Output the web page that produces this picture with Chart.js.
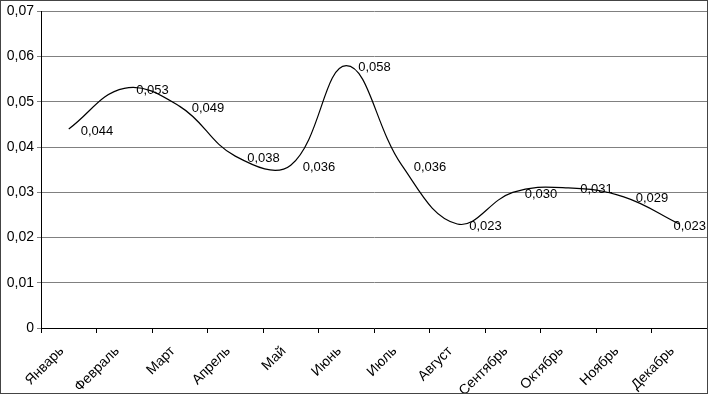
<!DOCTYPE html>
<html>
<head>
<meta charset="utf-8">
<script src="https://cdn.jsdelivr.net/npm/chart.js@4.4.1/dist/chart.umd.min.js"></script>
<style>
  html, body { margin: 0; padding: 0; background: #fff; }
  canvas { display: block; }
</style>
</head>
<body>
<canvas id="grafica" width="708" height="394"></canvas>
<script>
// data
const meses = ["Январь", "Февраль", "Март", "Апрель", "Май", "Июнь", "Июль", "Август", "Сентябрь", "Октябрь", "Ноябрь", "Декабрь"];
const valores = [0.044, 0.053, 0.049, 0.038, 0.036, 0.058, 0.036, 0.023, 0.030, 0.031, 0.029, 0.023];
const ticksY = [0, 0.01, 0.02, 0.03, 0.04, 0.05, 0.06, 0.07];

// frame around the whole picture
const marco = {
  id: "marco",
  afterDraw(chart) {
    const ctx = chart.ctx;
    ctx.save();
    ctx.strokeStyle = "#444";
    ctx.lineWidth = 1;
    ctx.strokeRect(0.5, 0.5, chart.width - 1, chart.height - 1);
    ctx.restore();
  }
};

// value labels to the right of each point
const etiquetas = {
  id: "etiquetas",
  afterDatasetsDraw(chart) {
    const ctx = chart.ctx;
    const meta = chart.getDatasetMeta(0);
    ctx.save();
    ctx.font = "13px 'Liberation Sans', Arial, sans-serif";
    ctx.fillStyle = "#000";
    ctx.textBaseline = "middle";
    meta.data.forEach((p, i) => {
      const txt = valores[i].toFixed(3).replace(".", ",");
      const w = ctx.measureText(txt).width;
      let x = p.x + 12;
      if (x + w > chart.width - 2) x = chart.width - 2 - w;
      ctx.fillText(txt, x, p.y + 2);
    });
    ctx.restore();
  }
};

new Chart(document.getElementById("grafica").getContext("2d"), {
  type: "line",
  data: {
    labels: meses,
    datasets: [{
      data: valores,
      borderColor: "#000",
      borderWidth: 1.2,
      pointRadius: 0,
      tension: 0.4,
      fill: false
    }]
  },
  options: {
    responsive: false,
    animation: false,
    layout: { padding: { top: 11, right: 1, left: 0, bottom: 0 } },
    plugins: { legend: { display: false }, tooltip: { enabled: false } },
    scales: {
      x: {
        offset: true,
        grid: { offset: true, drawOnChartArea: false, color: "#000", tickLength: 5 },
        border: { color: "#000" },
        ticks: {
          autoSkip: false,
          maxRotation: 45,
          minRotation: 45,
          labelOffset: -7,
          color: "#000",
          padding: 10,
          font: { family: "'Liberation Sans', Arial, sans-serif", size: 14 }
        },
        afterFit(s) { s.height = 66; }
      },
      y: {
        min: 0,
        max: 0.07,
        afterBuildTicks(s) { s.ticks = ticksY.map(v => ({ value: v })); },
        grid: { color: "#808080", tickLength: 4 },
        border: { color: "#000" },
        ticks: {
          color: "#000",
          padding: 3,
          font: { family: "'Liberation Sans', Arial, sans-serif", size: 14 },
          callback: v => v === 0 ? "0" : v.toFixed(2).replace(".", ",")
        },
        afterFit(s) { s.width = 41; }
      }
    }
  },
  plugins: [etiquetas, marco]
});
</script>
</body>
</html>
